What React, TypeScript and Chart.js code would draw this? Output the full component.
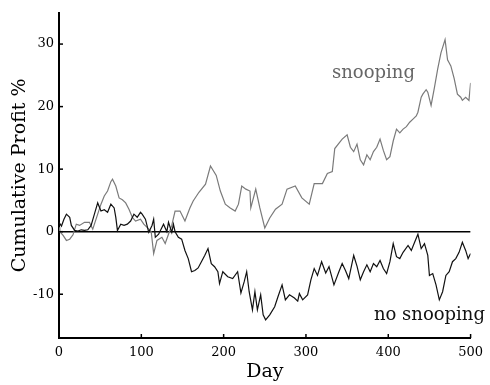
import React, { useEffect, useRef } from "react";
import { Chart, registerables } from "chart.js";

Chart.register(...registerables);

const snoopDays = [0, 1, 5, 9, 13, 17, 21, 25, 31, 37, 41, 45, 51, 55, 59, 63, 65, 69, 73, 77, 81, 85, 89, 93, 99, 103, 107, 112, 115, 119, 125, 129, 133, 137, 141, 147, 153, 159, 163, 170, 178, 184, 191, 196, 202, 208, 214, 218, 222, 227, 232, 233, 239, 244, 250, 256, 263, 271, 277, 287, 295, 304, 310, 320, 326, 332, 335, 344, 350, 354, 358, 362, 366, 370, 374, 378, 382, 386, 390, 394, 398, 402, 406, 410, 414, 418, 422, 426, 430, 434, 436, 440, 442, 446, 448, 452, 456, 460, 464, 469, 472, 476, 480, 484, 488, 490, 494, 498, 500];
const snoopValues = [0.7, 0, -0.6, -1.4, -1.2, -0.5, 1.2, 1.0, 1.5, 1.5, 0.4, 2.0, 4.4, 5.7, 6.5, 8.0, 8.4, 7.3, 5.4, 5.1, 4.6, 3.6, 2.3, 1.7, 2.0, 1.2, 0.7, 0, -3.5, -1.4, -0.9, -1.9, -0.4, 1.0, 3.3, 3.3, 1.7, 3.8, 4.9, 6.3, 7.6, 10.5, 9.0, 6.5, 4.4, 3.8, 3.3, 4.4, 7.3, 6.8, 6.5, 3.8, 6.8, 3.8, 0.6, 2.2, 3.6, 4.4, 6.8, 7.3, 5.4, 4.4, 7.7, 7.7, 9.3, 9.6, 13.3, 14.8, 15.5, 13.5, 12.8, 14.0, 11.5, 10.7, 12.3, 11.5, 12.8, 13.5, 14.8, 13.0, 11.5, 12.0, 14.5, 16.4, 15.8, 16.4, 16.8, 17.5, 18.0, 18.5, 19.1, 21.5, 22.0, 22.7, 22.3, 20.2, 23.0, 26.0, 28.6, 30.7, 27.5, 26.5, 24.5, 22.0, 21.5, 21.0, 21.5, 21.0, 23.8];

const noSnoopDays = [0, 3, 6, 9, 13, 15, 19, 23, 27, 31, 35, 39, 43, 47, 51, 55, 59, 63, 67, 69, 71, 75, 79, 83, 87, 91, 95, 99, 101, 105, 109, 113, 115, 117, 121, 127, 131, 133, 137, 139, 141, 145, 149, 153, 157, 161, 165, 169, 173, 177, 181, 185, 189, 193, 195, 199, 205, 211, 217, 221, 225, 228, 231, 235, 238, 241, 245, 248, 251, 256, 262, 266, 271, 275, 280, 286, 290, 292, 296, 302, 306, 310, 314, 319, 324, 328, 334, 340, 344, 348, 352, 358, 362, 366, 370, 374, 378, 382, 386, 390, 394, 398, 402, 406, 410, 414, 418, 424, 428, 432, 436, 440, 444, 448, 450, 454, 458, 462, 466, 470, 474, 478, 482, 486, 490, 494, 497, 500];
const noSnoopValues = [1.5, 0.9, 2.0, 2.8, 2.3, 1.0, 0.2, 0.1, 0.3, 0.2, 0.3, 1.0, 2.8, 4.6, 3.3, 3.5, 3.1, 4.4, 3.8, 2.3, 0.2, 1.2, 1.0, 1.2, 1.7, 2.8, 2.3, 3.1, 2.8, 2.0, -0.1, 1.0, 2.0, -0.9, -0.4, 1.2, 0, 1.5, -0.1, 1.2, 0, -0.9, -1.2, -3.0, -4.3, -6.4, -6.2, -5.8, -4.8, -3.8, -2.7, -5.1, -5.6, -6.4, -8.3, -6.4, -7.2, -7.5, -6.4, -9.8, -8.0, -6.4, -9.6, -12.5, -9.6, -12.5, -10.1, -13.3, -14.1, -13.3, -12.0, -10.4, -8.5, -10.9, -10.1, -10.6, -11.1, -9.9, -10.9, -10.1, -7.7, -5.9, -7.0, -4.8, -6.6, -5.6, -8.5, -6.4, -5.1, -6.2, -7.5, -3.8, -5.5, -7.7, -6.4, -5.3, -6.4, -5.1, -5.6, -4.6, -5.9, -6.7, -4.8, -1.9, -4.0, -4.3, -3.3, -2.2, -3.0, -1.7, -0.4, -2.7, -1.9, -3.8, -7.0, -6.7, -8.5, -10.9, -9.6, -7.0, -6.4, -4.8, -4.3, -3.3, -1.7, -3.0, -4.3, -3.5];

const zeroLineDays = [0, 500];
const zeroLineValues = [0, 0];

const xTickValues = [0, 100, 200, 300, 400, 500];
const yTickValues = [-10, 0, 10, 20, 30];

const seriesLabels = ["snooping", "no snooping"];

const SERIF = "'DejaVu Serif', serif";
const GRAY = "#7a7a7a";

const toPoints = (xs: number[], ys: number[]) => xs.map((x, i) => ({ x, y: ys[i] }));

const decorPlugin = {
  id: "decor",
  afterDraw(chart: any) {
    const ctx = chart.ctx;
    const xs = chart.scales.x;
    const ys = chart.scales.y;
    const area = chart.chartArea;
    ctx.save();
    ctx.strokeStyle = "#000";
    ctx.lineWidth = 1.5;
    xs.ticks.forEach((t: any) => {
      const px = xs.getPixelForValue(t.value);
      ctx.beginPath();
      ctx.moveTo(px, area.bottom);
      ctx.lineTo(px, area.bottom - 4);
      ctx.stroke();
    });
    ys.ticks.forEach((t: any) => {
      const py = ys.getPixelForValue(t.value);
      ctx.beginPath();
      ctx.moveTo(area.left, py);
      ctx.lineTo(area.left + 4, py);
      ctx.stroke();
    });
    ctx.font = "18px " + SERIF;
    ctx.textAlign = "center";
    ctx.textBaseline = "middle";
    ctx.fillStyle = "#666";
    ctx.fillText(seriesLabels[0], xs.getPixelForValue(382), ys.getPixelForValue(25.4));
    ctx.fillStyle = "#111";
    ctx.fillText(seriesLabels[1], xs.getPixelForValue(450), ys.getPixelForValue(-13.4));
    ctx.restore();
  },
};

export default function App() {
  const ref = useRef<HTMLCanvasElement | null>(null);
  useEffect(() => {
    if (!ref.current) return;
    const chart = new Chart(ref.current, {
      type: "line",
      data: {
        datasets: [
          {
            label: seriesLabels[1],
            data: toPoints(noSnoopDays, noSnoopValues),
            borderColor: "#111",
            borderWidth: 1.2,
            pointRadius: 0,
            tension: 0,
            order: 0,
          },
          {
            label: seriesLabels[0],
            data: toPoints(snoopDays, snoopValues),
            borderColor: GRAY,
            borderWidth: 1.2,
            pointRadius: 0,
            tension: 0,
            order: 1,
          },
          {
            label: "zero",
            data: toPoints(zeroLineDays, zeroLineValues),
            borderColor: "#000",
            borderWidth: 1.5,
            pointRadius: 0,
            order: 2,
          },
        ],
      },
      options: {
        responsive: false,
        animation: false,
        layout: { padding: { top: 8, right: 15, bottom: 0, left: 0 } },
        plugins: { legend: { display: false }, tooltip: { enabled: false } },
        scales: {
          x: {
            type: "linear",
            min: 0,
            max: 500,
            grid: { display: false, drawTicks: false },
            border: { display: true, color: "#000", width: 2 },
            afterBuildTicks: (s: any) => {
              s.ticks = xTickValues.map((v) => ({ value: v }));
            },
            afterFit: (s: any) => {
              s.height = 47;
            },
            ticks: {
              padding: 7,
              color: "#000",
              maxRotation: 0,
              font: { family: SERIF, size: 13 },
            },
            title: {
              display: true,
              text: "Day",
              color: "#000",
              font: { family: SERIF, size: 19 },
              padding: { top: 0, bottom: 2 },
            },
          },
          y: {
            type: "linear",
            min: -17,
            max: 35,
            grid: { display: false, drawTicks: false },
            border: { display: true, color: "#000", width: 2 },
            afterBuildTicks: (s: any) => {
              s.ticks = yTickValues.map((v) => ({ value: v }));
            },
            afterFit: (s: any) => {
              s.width = 59;
            },
            ticks: {
              padding: 5,
              color: "#000",
              font: { family: SERIF, size: 13 },
            },
            title: {
              display: true,
              text: "Cumulative Profit %",
              color: "#000",
              font: { family: SERIF, size: 19 },
              padding: { top: 9, bottom: 0 },
            },
          },
        },
      },
      plugins: [decorPlugin],
    });
    return () => chart.destroy();
  }, []);
  return (
    <div style={{ position: "fixed", left: 0, top: 0, width: 490, height: 385, background: "#fff" }}>
      <canvas ref={ref} width={490} height={385} />
    </div>
  );
}
